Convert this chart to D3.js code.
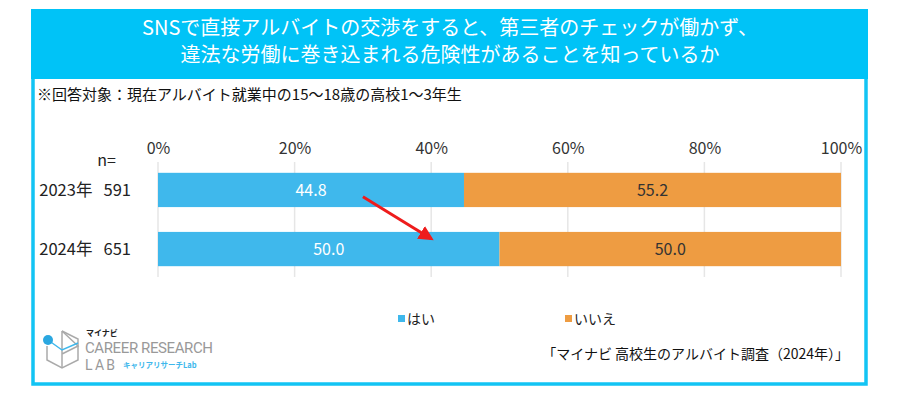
<!DOCTYPE html>
<html>
<head>
<meta charset="utf-8">
<script src="https://cdn.jsdelivr.net/npm/d3@7"></script>
<style>
  body { margin: 0; background: #fff; }
  text { font-family: "Noto Sans CJK JP", "Noto Sans", sans-serif; }
</style>
</head>
<body>
<div id="chart"></div>
<script>
var width = 900
var height = 398

// data
var years = ['2023年', '2024年']
var nValues = [591, 651]
var yesValues = [44.8, 50.0]
var noValues = [55.2, 50.0]
var seriesNames = ['はい', 'いいえ']
var seriesColors = ['#3fb8ec', '#ee9c42']
var tickValues = [0, 20, 40, 60, 80, 100]
var titleLines = ['SNSで直接アルバイトの交渉をすると、第三者のチェックが働かず、', '違法な労働に巻き込まれる危険性があることを知っているか']
var noteText = '※回答対象：現在アルバイト就業中の15～18歳の高校1～3年生'
var sourceText = '「マイナビ 高校生のアルバイト調査（2024年）」'

var svg = d3.select('#chart').append('svg')
  .attr('width', width)
  .attr('height', height)

// frame + header
svg.append('rect')
  .attr('x', 33).attr('y', 11).attr('width', 833).attr('height', 373)
  .attr('fill', '#fff').attr('stroke', '#12c4f4').attr('stroke-width', 3.5)
svg.append('rect')
  .attr('x', 31).attr('y', 9).attr('width', 837).attr('height', 70)
  .attr('fill', '#00c3f7')

svg.selectAll('.title').data(titleLines).enter().append('text')
  .attr('class', 'title')
  .attr('x', 450)
  .attr('y', function(d, i){ return 35 + i * 27 })
  .attr('text-anchor', 'middle')
  .attr('fill', '#fff')
  .attr('font-size', 20)
  .text(function(d){ return d })

svg.append('text')
  .attr('x', 37).attr('y', 100)
  .attr('font-size', 15)
  .attr('fill', '#111')
  .text(noteText)

// scales
var x = d3.scaleLinear().domain([0, 100]).range([158, 841])
var y = d3.scaleBand().domain(years).range([161, 278]).paddingInner(0.42).paddingOuter(0.2)

// grid
svg.selectAll('.grid').data(tickValues).enter().append('line')
  .attr('class', 'grid')
  .attr('x1', function(d){ return x(d) }).attr('x2', function(d){ return x(d) })
  .attr('y1', 162).attr('y2', 277)
  .attr('stroke', '#e6e6e6').attr('stroke-width', 1.5)

// top axis
var axis = d3.axisTop(x).tickValues(tickValues).tickFormat(function(d){ return d + '%' }).tickSize(0).tickPadding(0)
var ag = svg.append('g').attr('transform', 'translate(0,154)').call(axis)
ag.select('.domain').remove()
ag.selectAll('text')
  .attr('font-size', 16)
  .attr('fill', '#333')
  .style('font-family', '"Noto Sans CJK JP", sans-serif')

// stacked bars
var rows = years.map(function(yr, i){
  return { year: yr, n: nValues[i], parts: [
    { start: 0, value: yesValues[i], color: seriesColors[0], label: '#fff' },
    { start: yesValues[i], value: noValues[i], color: seriesColors[1], label: '#333' }
  ]}
})

var rowG = svg.selectAll('.row').data(rows).enter().append('g').attr('class', 'row')

rowG.selectAll('rect').data(function(d){ return d.parts.map(function(p){ p.year = d.year; return p }) })
  .enter().append('rect')
  .attr('x', function(p){ return x(p.start) })
  .attr('y', function(p){ return y(p.year) })
  .attr('width', function(p){ return x(p.start + p.value) - x(p.start) })
  .attr('height', y.bandwidth())
  .attr('fill', function(p){ return p.color })

rowG.selectAll('.val').data(function(d){ return d.parts })
  .enter().append('text')
  .attr('class', 'val')
  .attr('x', function(p){ return (x(p.start) + x(p.start + p.value)) / 2 })
  .attr('y', function(p){ return y(p.year) + y.bandwidth() / 2 + 6 })
  .attr('text-anchor', 'middle')
  .attr('font-size', 16)
  .attr('fill', function(p){ return p.label })
  .text(function(p){ return p.value.toFixed(1) })

// row labels
rowG.append('text')
  .attr('x', 131)
  .attr('y', function(d){ return y(d.year) + y.bandwidth() / 2 + 6 })
  .attr('text-anchor', 'end')
  .attr('font-size', 16.5)
  .attr('fill', '#222')
  .attr('xml:space', 'preserve')
  .text(function(d){ return d.year + '   ' + d.n })

svg.append('text')
  .attr('x', 116).attr('y', 166)
  .attr('text-anchor', 'end')
  .attr('font-size', 16)
  .attr('fill', '#222')
  .text('n=')

// arrow
svg.append('defs').append('marker')
  .attr('id', 'ah').attr('viewBox', '0 0 10 10')
  .attr('refX', 8).attr('refY', 5)
  .attr('markerWidth', 5).attr('markerHeight', 5)
  .attr('orient', 'auto')
  .append('path').attr('d', 'M0,0L10,5L0,10z').attr('fill', '#ee1c1c')
svg.append('line')
  .attr('x1', x(30)).attr('y1', y(years[0]) + y.bandwidth() * 0.7)
  .attr('x2', x(40)).attr('y2', y(years[1]) + y.bandwidth() * 0.2)
  .attr('stroke', '#ee1c1c').attr('stroke-width', 3)
  .attr('marker-end', 'url(#ah)')

// legend
var lg = svg.selectAll('.lg').data(seriesNames).enter().append('g').attr('class', 'lg')
  .attr('transform', function(d, i){ return 'translate(' + (398 + i * 167) + ',319)' })
lg.append('rect').attr('x', 0).attr('y', -4).attr('width', 7).attr('height', 7)
  .attr('fill', function(d, i){ return seriesColors[i] })
lg.append('text').attr('x', 9).attr('y', 5).attr('font-size', 14).attr('fill', '#222')
  .text(function(d){ return d })

// source
svg.append('text')
  .attr('x', 849).attr('y', 359)
  .attr('text-anchor', 'end')
  .attr('font-size', 14)
  .attr('fill', '#111')
  .text(sourceText)

// logo
var logo = svg.append('g')
var cube = logo.append('g').attr('fill', 'none').attr('stroke', '#aaa').attr('stroke-width', 1.5)
cube.append('path').attr('d', 'M62,331 L78,339 L78,360 L62,368 L47,360 L47,346')
cube.append('path').attr('d', 'M62,331 L62,368 M62,331 L78,346 L62,354')
logo.append('path').attr('d', 'M48,340 L62,350 L78,343')
  .attr('fill', 'none').attr('stroke', '#3fb8ec').attr('stroke-width', 1.5)
logo.append('circle').attr('cx', 48).attr('cy', 340).attr('r', 5).attr('fill', '#2aa7e0')
logo.append('text').attr('x', 86).attr('y', 336).attr('font-size', 8).attr('font-weight', 'bold').attr('fill', '#222').text('マイナビ')
logo.append('text').attr('x', 85).attr('y', 353).attr('font-size', 15).attr('fill', '#999')
  .style('font-family', 'Roboto, sans-serif').attr('textLength', 128).text('CAREER RESEARCH')
logo.append('text').attr('x', 85).attr('y', 370).attr('font-size', 14).attr('fill', '#999')
  .style('font-family', 'Roboto, sans-serif').attr('textLength', 30).text('LAB')
logo.append('text').attr('x', 123).attr('y', 368).attr('font-size', 7.5).attr('font-weight', 'bold').attr('fill', '#3fb8ec').text('キャリアリサーチLab')
</script>
</body>
</html>
